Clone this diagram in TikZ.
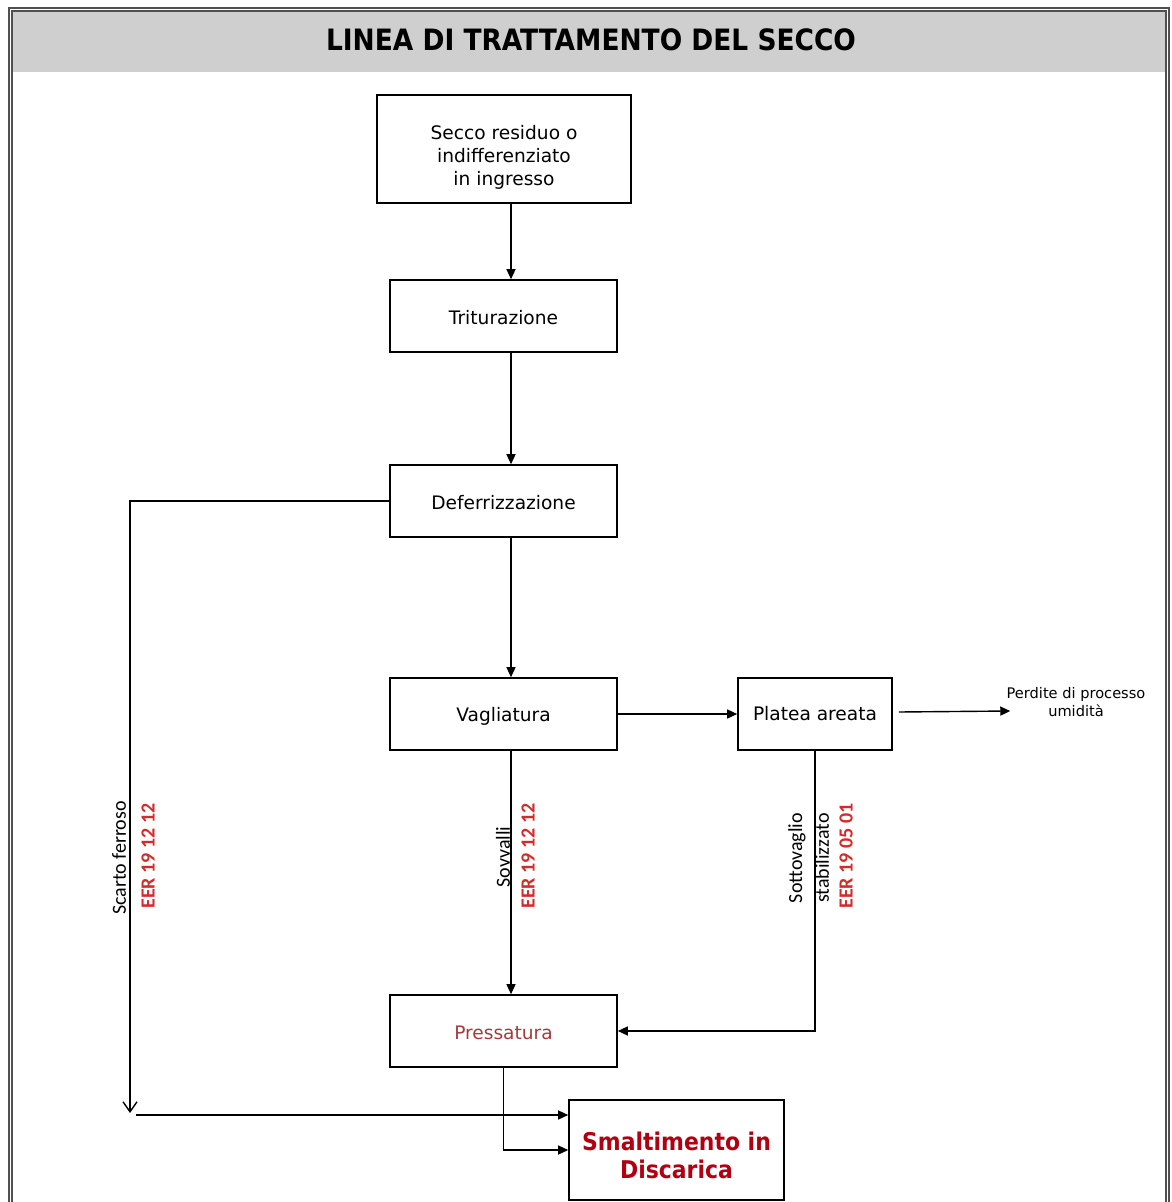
\documentclass[tikz,border=0pt]{standalone}
\usepackage{fontspec}
\setmainfont{DejaVu Sans}
\newfontfamily\titlefont{DejaVu Sans Condensed}
\newfontfamily\labelfont{Carlito}
\usetikzlibrary{arrows.meta, positioning}
\definecolor{eerred}{HTML}{D42A2A}
\definecolor{pressred}{HTML}{A53A3E}
\definecolor{discred}{HTML}{B00012}
\definecolor{framegray}{HTML}{505050}
\definecolor{bargray}{HTML}{D0CFD0}

\begin{document}
\begin{tikzpicture}[x=0.5pt, y=-0.5pt, font=\fontsize{9.3}{11.5}\selectfont,
	box/.style={draw, line width=0.8pt, align=center, minimum width=113.5pt, minimum height=36pt, inner sep=0pt},
	flow/.style={line width=0.7pt, -{Triangle[length=5pt, width=4.5pt]}},
	side/.style={rotate=90, inner sep=1pt, font=\labelfont\fontsize{10}{12}\selectfont},
	eer/.style={side, text=eerred, font=\labelfont\bfseries\fontsize{10}{12}\selectfont}]
	\def\off{3.75pt}
	\useasboundingbox (0,0) rectangle (1171,1202);

	\fill[bargray] (12,11) rectangle (1166,72);
	\draw[framegray, line width=1pt] (8.5,1210) -- (8.5,8) -- (1169,8) -- (1169,1210);
	\draw[framegray, line width=1pt] (12,1210) -- (12,11) -- (1166,11) -- (1166,1210);
	\node (title) at (591,40) {\titlefont\bfseries\fontsize{14.7}{17}\selectfont LINEA DI TRATTAMENTO DEL SECCO};

	\node[box, minimum width=127pt, minimum height=54pt] (ingresso) at (504,149) {\rule{0pt}{15pt}Secco residuo o\\indifferenziato\\in ingresso};
	\node[box] (trit) at (503.5,316) {\rule{0pt}{9pt}Triturazione};
	\node[box] (deferr) at (503.5,501) {\rule{0pt}{9pt}Deferrizzazione};
	\node[box] (vagl) at (503.5,714) {\rule{0pt}{9pt}Vagliatura};
	\node[box, minimum width=77pt] (platea) at (815,714) {Platea areata};
	\node[box, text=pressred] (press) at (503.5,1031) {\rule{0pt}{9pt}Pressatura};
	\node[box, minimum width=107.5pt, minimum height=50pt, text=discred, font=\titlefont\bfseries\fontsize{12.2}{14}\selectfont] (discarica) at (676.5,1150) {\rule{0pt}{15pt}Smaltimento in\\Discarica};
	\node[align=center, inner sep=2pt, font=\fontsize{7.3}{9}\selectfont] (perdite) at (1076,702) {Perdite di processo\\umidità};

	\draw[flow] ([xshift=\off]trit.north |- ingresso.south) -- ([xshift=\off]trit.north);
	\draw[flow] ([xshift=\off]trit.south) -- ([xshift=\off]deferr.north);
	\draw[flow] ([xshift=\off]deferr.south) -- ([xshift=\off]vagl.north);
	\draw[flow] ([xshift=\off]vagl.south) -- ([xshift=\off]press.north);
	\draw[flow] (vagl) -- (platea);
	\draw[flow] ([xshift=3pt, yshift=1pt]platea.east) -- ([xshift=4pt, yshift=1.5pt]perdite.west |- platea.east);
	\draw[flow] (platea.south) |- (press.east);
	\draw[flow] (press.south) |- (discarica.west);

	\coordinate (ferro) at (130,1113);
	\coordinate (ferrostart) at (136,1115);
	\draw[line width=0.7pt, -{Straight Barb[length=5pt, width=7pt]}] (deferr.west) -| (ferro);
	\draw[flow] (ferrostart) -- (ferrostart -| discarica.west);

	\node[side] (scarto) at (119,858) {Scarto ferroso};
	\node[eer] (eerscarto) at (148,856) {EER 19 12 12};
	\node[side] (sovvalli) at (503,857) {Sovvalli};
	\node[eer] (eersovvalli) at (528,856) {EER 19 12 12};
	\node[side] (sottovaglio) at (797,858) {Sottovaglio};
	\node[side] (stabil) at (822,858) {stabilizzato};
	\node[eer] (eersotto) at (846,856) {EER 19 05 01};
\end{tikzpicture}
\end{document}
